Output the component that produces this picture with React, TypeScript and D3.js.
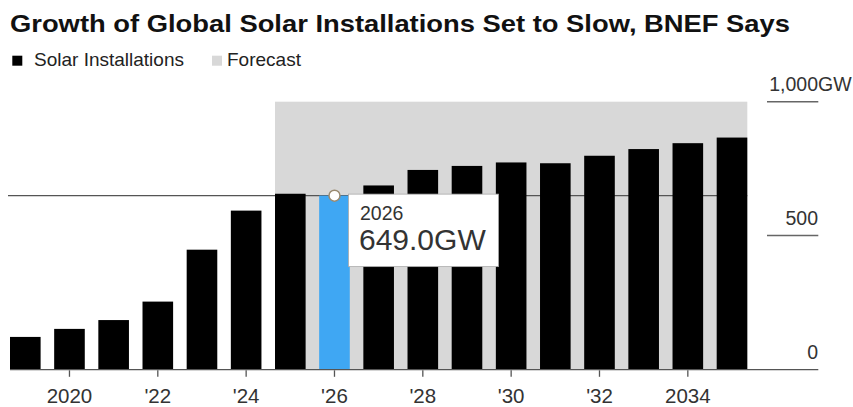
import React from "react";
import * as d3 from "d3";

// Annual global solar installations (GW), historical + BNEF forecast
const years: number[] = [2019, 2020, 2021, 2022, 2023, 2024, 2025, 2026, 2027, 2028, 2029, 2030, 2031, 2032, 2033, 2034, 2035];
const installations: number[] = [121, 151, 184, 253, 447, 593, 656, 649, 687, 745, 760, 773, 770, 798, 823, 845, 866];
const forecastStart = 2025;
const forecastEnd = 2035;
const highlightYear = 2026;

const xTickYears: number[] = [2020, 2022, 2024, 2026, 2028, 2030, 2032, 2034];
const xTickLabels: string[] = ["2020", "'22", "'24", "'26", "'28", "'30", "'32", "2034"];
const yTicks: number[] = [0, 500, 1000];
const yTickLabels: string[] = ["0", "500", "1,000"];

const W = 853;
const H = 407;
const FONT = "'Liberation Sans', Arial, Helvetica, sans-serif";

export default function App() {
  const x = d3
    .scaleBand<number>()
    .domain(years)
    .range([10, 747.3])
    .paddingInner(0.307)
    .paddingOuter(0);
  const y = d3.scaleLinear().domain([0, 1000]).range([369.3, 101.7]);

  const bw = x.bandwidth();
  const hiIdx = years.indexOf(highlightYear);
  const hiVal = installations[hiIdx];
  const hx = (x(highlightYear) as number) + bw / 2;
  const hy = y(hiVal);

  const shadeX0 = x(forecastStart) as number;
  const shadeX1 = (x(forecastEnd) as number) + bw;

  const tipX = hx + 14;
  const tipY = hy - 1.5;
  const tipW = 150;
  const tipH = 72.5;

  return (
    <svg
      width={W}
      height={H}
      viewBox={`0 0 ${W} ${H}`}
      style={{ position: "absolute", left: 0, top: 0, display: "block", background: "#fff" }}
      fontFamily={FONT}
    >
      <rect x={0} y={0} width={W} height={H} fill="#fff" />

      {/* Title */}
      <text
        x={10}
        y={31.5}
        fontSize={24}
        fontWeight="bold"
        fill="#111"
        textLength={780}
        lengthAdjust="spacingAndGlyphs"
      >
        Growth of Global Solar Installations Set to Slow, BNEF Says
      </text>

      {/* Legend */}
      <rect x={12.3} y={55.7} width={10} height={10} fill="#000" />
      <text x={34} y={66} fontSize={19} fill="#222">
        Solar Installations
      </text>
      <rect x={212} y={55.7} width={10} height={10} fill="#d8d8d8" />
      <text x={227} y={66} fontSize={19} fill="#222">
        Forecast
      </text>

      {/* Forecast shading */}
      <rect x={shadeX0} y={y(1000)} width={shadeX1 - shadeX0} height={y(0) - y(1000)} fill="#d8d8d8" />

      {/* Crosshair at hovered value */}
      <line x1={8} x2={shadeX1} y1={hy} y2={hy} stroke="#555" strokeWidth={1.2} />

      {/* Bars */}
      {years.map((yr, i) => (
        <rect
          key={yr}
          x={x(yr) as number}
          y={y(installations[i])}
          width={bw}
          height={y(0) - y(installations[i])}
          fill={yr === highlightYear ? "#3fa7f3" : "#000"}
        />
      ))}

      {/* Baseline */}
      <line x1={10} x2={818.3} y1={y(0) + 0.3} y2={y(0) + 0.3} stroke="#555" strokeWidth={1.3} />

      {/* Right-side y axis */}
      {yTicks.map((t, i) => (
        <g key={t}>
          {t !== 0 && (
            <line x1={767} x2={818.3} y1={y(t)} y2={y(t)} stroke="#666" strokeWidth={1.4} />
          )}
          <text x={818} y={y(t) - 10.5} fontSize={19.5} fill="#333" textAnchor="end">
            {yTickLabels[i]}
          </text>
          {t === 1000 && (
            <text x={818} y={y(t) - 10.5} fontSize={19.5} fill="#333">
              GW
            </text>
          )}
        </g>
      ))}

      {/* X axis ticks and labels */}
      {xTickYears.map((yr, i) => {
        const cx = (x(yr) as number) + bw / 2;
        return (
          <g key={yr}>
            <line x1={cx} x2={cx} y1={y(0) + 1} y2={y(0) + 7.5} stroke="#555" strokeWidth={1.3} />
            <text x={cx} y={403} fontSize={20.5} fill="#333" textAnchor="middle">
              {xTickLabels[i]}
            </text>
          </g>
        );
      })}

      {/* Hover marker */}
      <circle cx={hx} cy={hy} r={5.5} fill="#fff" stroke="#9a8a70" strokeWidth={1.5} />

      {/* Tooltip */}
      <rect x={tipX} y={tipY} width={tipW} height={tipH} fill="#fff" stroke="#aaa" strokeWidth={0.8} />
      <text x={tipX + 11.5} y={tipY + 26} fontSize={19.5} fill="#333">
        {highlightYear}
      </text>
      <text x={tipX + 10.5} y={tipY + 56} fontSize={30} fill="#333">
        {d3.format(".1f")(hiVal)}GW
      </text>
    </svg>
  );
}
